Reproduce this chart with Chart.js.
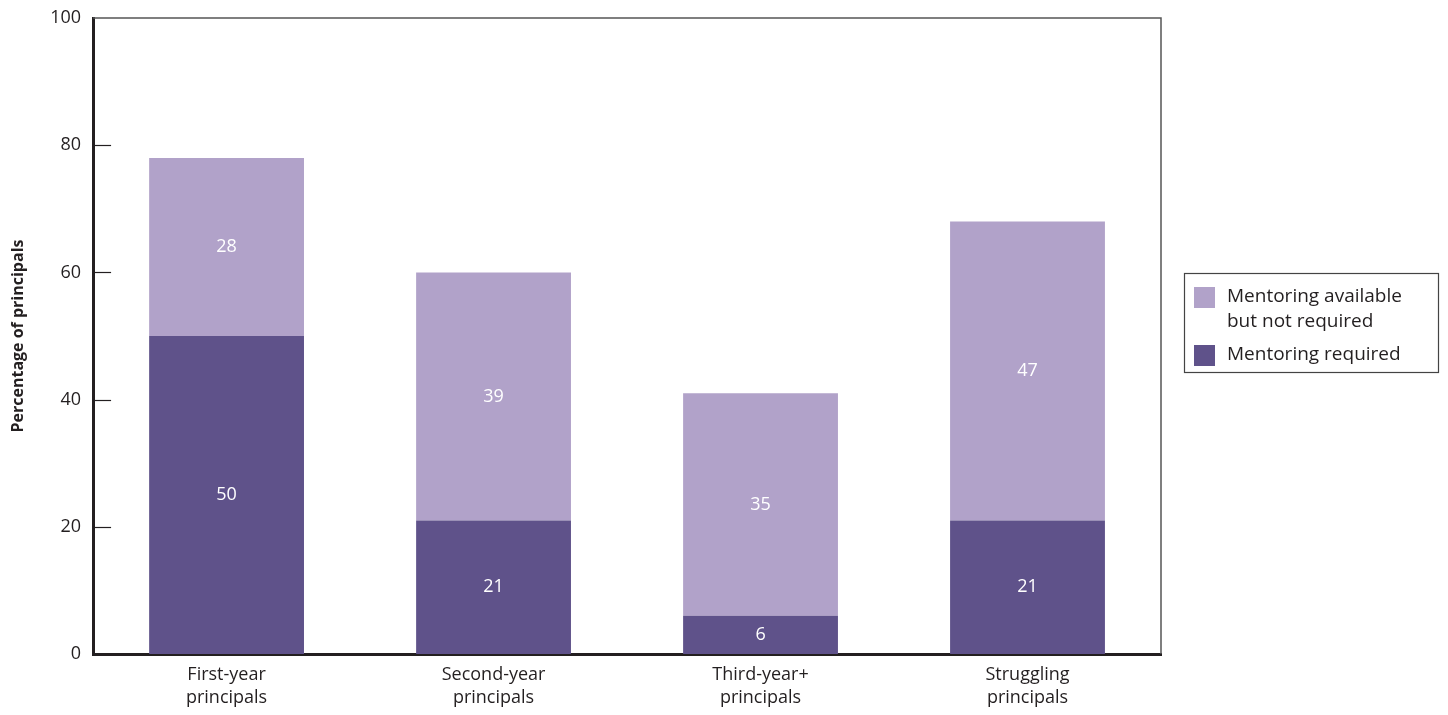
<!DOCTYPE html>
<html>
<head>
<meta charset="utf-8">
<script src="https://cdn.jsdelivr.net/npm/chart.js@4.4.1/dist/chart.umd.min.js"></script>
<style>
  html, body { margin: 0; padding: 0; background: #fff; }
  #wrap { width: 1448px; height: 715px; position: relative; }
</style>
</head>
<body>
<div id="wrap"><canvas id="chart"></canvas></div>
<script>
const categories = [['First-year', 'principals'], ['Second-year', 'principals'], ['Third-year+', 'principals'], ['Struggling', 'principals']];
const required = [50, 21, 6, 21];
const availableNotRequired = [28, 39, 35, 47];
const yTicks = [0, 20, 40, 60, 80, 100];

const lightPurple = '#b1a2c9';
const darkPurple = '#5f528a';
const fontFamily = '"Open Sans", "Noto Sans", sans-serif';

// white value labels in the middle of each segment
const barLabels = {
    id: 'barLabels',
    afterDatasetsDraw(chart) {
        const ctx = chart.ctx;
        ctx.save();
        ctx.fillStyle = '#ffffff';
        ctx.font = '18px ' + fontFamily;
        ctx.textAlign = 'center';
        ctx.textBaseline = 'middle';
        chart.data.datasets.forEach((ds, i) => {
            chart.getDatasetMeta(i).data.forEach((bar, j) => {
                const mid = (bar.y + bar.base) / 2;
                ctx.fillText(ds.data[j], bar.x, mid);
            });
        });
        ctx.restore();
    }
};

// inward tick marks, thin frame on top/right, boxed legend
const frame = {
    id: 'frame',
    afterDraw(chart) {
        const ctx = chart.ctx;
        const a = chart.chartArea;
        const y = chart.scales.y;
        ctx.save();
        ctx.strokeStyle = '#555555';
        ctx.lineWidth = 1.5;
        ctx.beginPath();
        ctx.moveTo(a.left, a.top);
        ctx.lineTo(a.right, a.top);
        ctx.lineTo(a.right, a.bottom);
        ctx.stroke();

        ctx.strokeStyle = '#231f20';
        ctx.lineWidth = 1.2;
        yTicks.forEach(v => {
            if (v === 0 || v === 100) return;
            const py = Math.round(y.getPixelForValue(v)) + 0.5;
            ctx.beginPath();
            ctx.moveTo(a.left, py);
            ctx.lineTo(a.left + 18, py);
            ctx.stroke();
        });

        // legend
        const lx = 1184, ly = 273, lw = 254, lh = 99;
        ctx.strokeStyle = '#444444';
        ctx.lineWidth = 1.2;
        ctx.strokeRect(lx + 0.5, ly + 0.5, lw, lh);
        ctx.font = '19px ' + fontFamily;
        ctx.textAlign = 'left';
        ctx.textBaseline = 'middle';
        ctx.fillStyle = lightPurple;
        ctx.fillRect(lx + 10, ly + 14, 21, 21);
        ctx.fillStyle = darkPurple;
        ctx.fillRect(lx + 10, ly + 72, 21, 21);
        ctx.fillStyle = '#231f20';
        ctx.fillText('Mentoring available', lx + 43, ly + 24);
        ctx.fillText('but not required', lx + 43, ly + 49);
        ctx.fillText('Mentoring required', lx + 43, ly + 82);
        ctx.restore();
    }
};

const data = {
    labels: categories,
    datasets: [
        {
            label: 'Mentoring required',
            data: required,
            backgroundColor: darkPurple,
            barPercentage: 0.58,
            categoryPercentage: 1.0,
        },
        {
            label: 'Mentoring available but not required',
            data: availableNotRequired,
            backgroundColor: lightPurple,
            barPercentage: 0.58,
            categoryPercentage: 1.0,
        }
    ]
};

const options = {
    responsive: true,
    maintainAspectRatio: false,
    animation: false,
    layout: { padding: { top: 18, right: 287, left: 9, bottom: -4 } },
    plugins: {
        legend: { display: false },
        tooltip: { enabled: false },
    },
    scales: {
        x: {
            stacked: true,
            grid: { display: false, drawTicks: false },
            border: { display: true, color: '#231f20', width: 3 },
            ticks: {
                color: '#231f20',
                font: { family: fontFamily, size: 18, lineHeight: 1.25 },
                padding: 10,
            },
        },
        y: {
            stacked: true,
            min: 0,
            max: 100,
            afterBuildTicks: axis => { axis.ticks = yTicks.map(v => ({ value: v })); },
            afterFit: axis => { axis.paddingTop = 0; },
            grid: { display: false, drawTicks: false },
            border: { display: true, color: '#231f20', width: 3 },
            ticks: {
                color: '#231f20',
                font: { family: fontFamily, size: 18 },
                padding: 12,
            },
            title: {
                display: true,
                text: 'Percentage of principals',
                color: '#231f20',
                font: { family: fontFamily, size: 16, weight: 'bold' },
                padding: { top: 0, bottom: 10 },
            },
        }
    }
};

new Chart(document.getElementById('chart'), { type: 'bar', data: data, options: options, plugins: [barLabels, frame] });
</script>
</body>
</html>
